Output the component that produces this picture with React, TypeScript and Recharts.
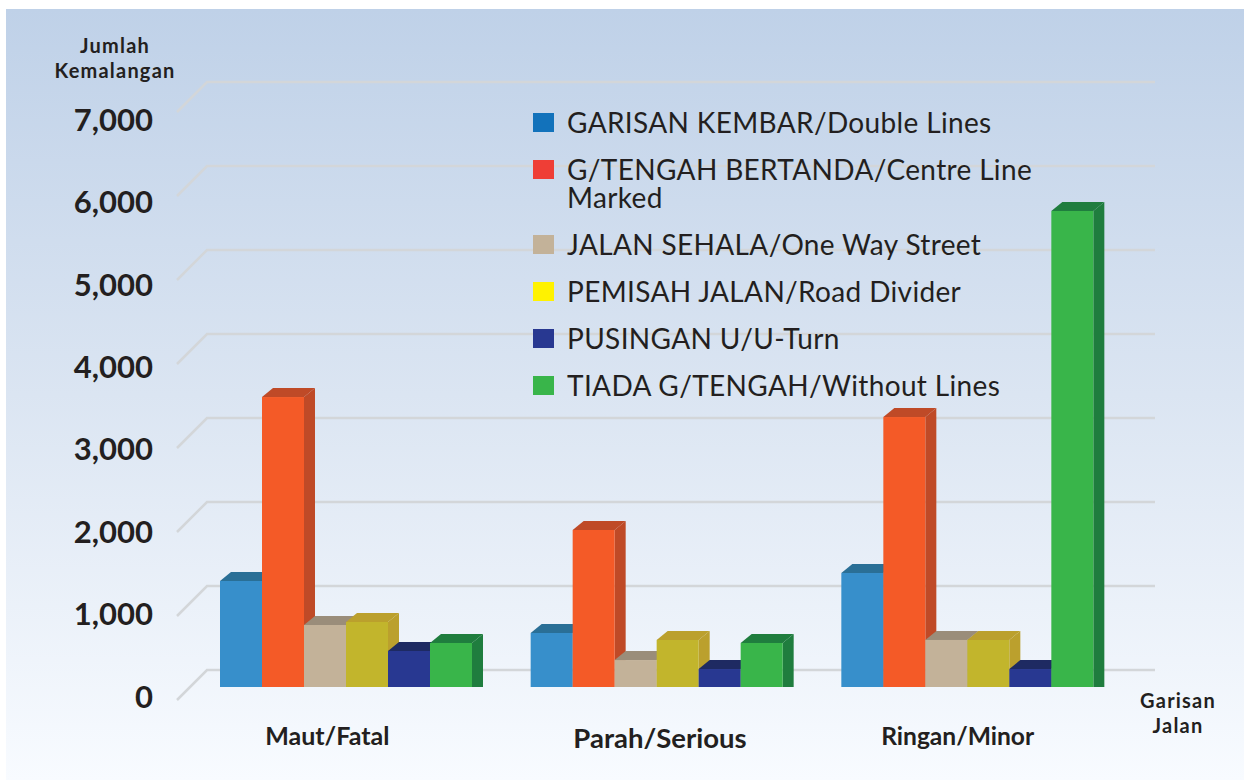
import { BarChart, Bar, XAxis, YAxis, CartesianGrid, Legend } from 'recharts'

const categories = ['Maut/Fatal', 'Parah/Serious', 'Ringan/Minor']
const doubleLines = [1262, 643, 1357]
const centreLine = [3452, 1869, 3214]
const oneWay = [738, 321, 560]
const roadDivider = [774, 560, 560]
const uTurn = [429, 214, 214]
const withoutLines = [524, 524, 5667]
const yTicks = [0, 1000, 2000, 3000, 4000, 5000, 6000, 7000]
const labelShift = [-19, 3, -10]
const labelSize = [25, 27.5, 24.6]

const data = categories.map((name, i) => ({
  name,
  doubleLines: doubleLines[i],
  centreLine: centreLine[i],
  oneWay: oneWay[i],
  roadDivider: roadDivider[i],
  uTurn: uTurn[i],
  withoutLines: withoutLines[i],
}))

const series = [
  { key: 'doubleLines', name: 'GARISAN KEMBAR/Double Lines', front: '#378fcb', top: '#2a6f96', side: '#2a6f96', swatch: '#1272bb' },
  { key: 'centreLine', name: 'G/TENGAH BERTANDA/Centre Line Marked', front: '#f45a27', top: '#bf4a27', side: '#bf4a27', swatch: '#ef3e36' },
  { key: 'oneWay', name: 'JALAN SEHALA/One Way Street', front: '#c3b299', top: '#9a8d7a', side: '#9a8d7a', swatch: '#c3b299' },
  { key: 'roadDivider', name: 'PEMISAH JALAN/Road Divider', front: '#c2b52c', top: '#bba02d', side: '#bba02d', swatch: '#fff200' },
  { key: 'uTurn', name: 'PUSINGAN U/U-Turn', front: '#283891', top: '#1e2a62', side: '#1e2a62', swatch: '#283891' },
  { key: 'withoutLines', name: 'TIADA G/TENGAH/Without Lines', front: '#39b54a', top: '#1f7d3e', side: '#1f7d3e', swatch: '#39b54a' },
]

const DEPTH_X = 11
const DEPTH_Y = 9
const INK = '#231f20'
const FONT = 'Lato, "Open Sans", sans-serif'

function Box3D({ x, y, width, height, front, top, side }: any) {
  const r = x + width
  const b = y + height
  return (
    <g>
      <polygon points={`${r},${y} ${r + DEPTH_X},${y - DEPTH_Y} ${r + DEPTH_X},${b} ${r},${b}`} fill={side} />
      <polygon points={`${x},${y} ${x + DEPTH_X},${y - DEPTH_Y} ${r + DEPTH_X},${y - DEPTH_Y} ${r},${y}`} fill={top} />
      <rect x={x} y={y} width={width} height={height} fill={front} />
    </g>
  )
}

function GridLine({ y1 }: any) {
  return (
    <path
      d={`M177,${y1 + 13} L207,${y1 - 17} L1155,${y1 - 17}`}
      fill="none"
      stroke="#d3d6d9"
      strokeWidth={2.5}
    />
  )
}

function ValueTick({ y, payload }: any) {
  const dy = 9.5 + (11 * payload.value) / 7000
  return (
    <text x={153} y={y + dy} dy="0.36em" textAnchor="end" fontFamily={FONT} fontWeight={700} fontSize={31} fill={INK}>
      {payload.value.toLocaleString('en-US')}
    </text>
  )
}

function CategoryTick({ x, payload, index }: any) {
  return (
    <text x={x + labelShift[index]} y={index === 1 ? 738 : 736} dy="0.36em" textAnchor="middle" fontFamily={FONT} fontWeight={700} fontSize={labelSize[index]} fill={INK}>
      {payload.value}
    </text>
  )
}

function KeyList({ payload }: any) {
  return (
    <div style={{ display: 'flex', flexDirection: 'column', gap: 19, fontFamily: FONT, fontSize: 28, letterSpacing: 0.35, lineHeight: '28px', color: INK }}>
      {(payload ?? []).map((item: any, i: number) => (
        <div key={item.value} style={{ position: 'relative', paddingLeft: 34, width: 480 }}>
          <span style={{ position: 'absolute', left: 0, top: 5, width: 21, height: 19, background: series[i].swatch }} />
          {item.value}
        </div>
      ))}
    </div>
  )
}

const noteStyle = { position: 'absolute', fontFamily: FONT, fontWeight: 700, fontSize: 20, letterSpacing: 1.2, lineHeight: '25px', color: INK, textAlign: 'center' } as const

export default function App() {
  return (
    <div style={{ position: 'absolute', left: 0, top: 0, width: 1244, height: 782, background: '#fff', overflow: 'hidden' }}>
      <div style={{ position: 'absolute', left: 6, top: 9, width: 1238, height: 771, background: 'linear-gradient(180deg, #bfd1e8 0%, #dbe5f2 50%, #f8fbff 100%)' }} />
      <BarChart
        width={1244}
        height={782}
        data={data}
        margin={{ top: 99, right: 121, bottom: 35, left: 0 }}
        barGap={0}
        barSize={42}
        style={{ position: 'absolute', left: 0, top: 0 }}
      >
        <CartesianGrid vertical={false} horizontal={(props: any) => <GridLine key={props.y1} {...props} />} />
        <XAxis dataKey="name" height={60} axisLine={false} tickLine={false} interval={0} tick={<CategoryTick />} />
        <YAxis width={191} domain={[0, 7000]} ticks={yTicks} interval={0} axisLine={false} tickLine={false} tick={<ValueTick />} />
        <Legend
          layout="vertical"
          align="center"
          verticalAlign="middle"
          itemSorter={null}
          content={<KeyList />}
          wrapperStyle={{ left: 533, top: 108, width: 520, bottom: 'auto' }}
        />
        {series.map((s) => (
          <Bar
            key={s.key}
            dataKey={s.key}
            name={s.name}
            fill={s.swatch}
            isAnimationActive={false}
            shape={(props: any) => <Box3D {...props} front={s.front} top={s.top} side={s.side} />}
          />
        ))}
      </BarChart>
      <div style={{ ...noteStyle, left: 25, top: 33, width: 180 }}>
        Jumlah
        <br />
        Kemalangan
      </div>
      <div style={{ ...noteStyle, left: 1123, top: 688, width: 110 }}>
        Garisan
        <br />
        Jalan
      </div>
    </div>
  )
}
